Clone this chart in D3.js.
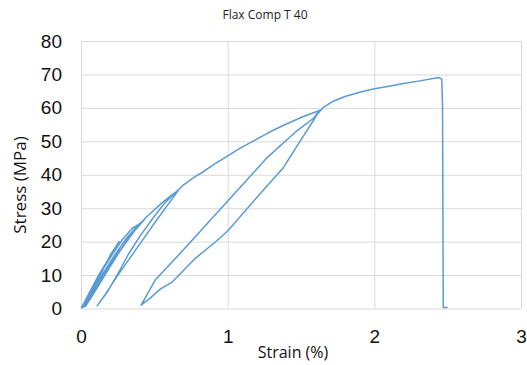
<!DOCTYPE html>
<html>
<head>
<meta charset="utf-8">
<script src="https://cdn.jsdelivr.net/npm/d3@7"></script>
<style>
  body { margin: 0; background: #fff; }
  svg { display: block; font-family: "Open Sans", sans-serif; }
  .grid line { stroke: #d9d9d9; stroke-width: 1; }
  .grid path { display: none; }
  .tick-labels path, .tick-labels line { display: none; }
  .tick-labels text { font-size: 19px; fill: #111; }
</style>
</head>
<body>
<div id="chart"></div>
<script>
const width = 527;
const height = 365;

const xTicks = [0, 1, 2, 3];
const yTicks = [0, 10, 20, 30, 40, 50, 60, 70, 80];

// strain (%), in drawing order
const strain = [
  0, 0.06, 0.12, 0.19, 0.26,
  0.2, 0.12, 0.05, 0.01,
  0.07, 0.14, 0.21, 0.28, 0.35, 0.41,
  0.36, 0.26, 0.15, 0.06, 0.02,
  0.08, 0.15, 0.23, 0.31, 0.39, 0.43,
  0.37, 0.27, 0.17, 0.08, 0.03,
  0.1, 0.18, 0.27, 0.36, 0.45, 0.55, 0.62, 0.665,
  0.6, 0.5, 0.38, 0.26, 0.17, 0.11,
  0.18, 0.24, 0.32, 0.4, 0.49, 0.57, 0.64, 0.7, 0.77, 0.834, 0.92, 0.998, 1.08, 1.155, 1.27, 1.381, 1.52, 1.613, 1.627,
  1.586, 1.476, 1.271, 1.005, 0.697, 0.506, 0.41,
  0.472, 0.54, 0.622, 0.78, 0.93, 1.005, 1.224, 1.381, 1.497, 1.586, 1.606,
  1.65, 1.72, 1.8, 1.9, 2.0, 2.1, 2.2, 2.3, 2.44, 2.46, 2.465, 2.47, 2.5
];

// stress (MPa) matching the strain list
const stress = [
  0, 5, 10, 15, 20,
  16, 9, 3, 0.3,
  5.5, 11, 16, 20.5, 24, 25.6,
  23, 17, 9.5, 3.5, 0.5,
  5, 10.5, 16, 21, 25, 26.5,
  23.5, 17.5, 10.5, 4, 0.6,
  6, 12, 18.5, 23.5, 27.5, 31.5, 34, 35.4,
  31.5, 25.5, 18, 10.5, 4.5, 0.8,
  5, 9.5, 16, 21.5, 27, 31.5, 34.5, 37, 39.2, 40.9, 43.5, 45.6, 47.8, 49.6, 52.4, 54.8, 57.5, 59.0, 59.3,
  56.9, 53.3, 45.2, 32.4, 17.5, 8.5, 1.0,
  3.1, 5.8, 7.9, 15, 20.4, 23.4, 34.5, 42.2, 50.3, 56.3, 57.8,
  60.1, 62.0, 63.4, 64.7, 65.7, 66.5, 67.3, 68.0, 69.1, 68.5, 60, 0.3, 0.3
];

const data = strain.map((s, i) => ({ x: s, y: stress[i] }));

const svg = d3.select("#chart")
  .append("svg")
  .attr("width", width)
  .attr("height", height);

const x = d3.scaleLinear().domain([0, 3]).range([81, 521]);
const y = d3.scaleLinear().domain([0, 80]).range([308.5, 41]);

// gridlines
svg.append("g")
  .attr("class", "grid")
  .attr("transform", `translate(0,${y(0)})`)
  .call(d3.axisBottom(x).tickValues(xTicks).tickSize(-(y(0) - y(80))).tickFormat(""));

svg.append("g")
  .attr("class", "grid")
  .attr("transform", `translate(${x(0)},0)`)
  .call(d3.axisLeft(y).tickValues(yTicks).tickSize(-(x(3) - x(0))).tickFormat(""));

// tick labels
svg.append("g")
  .attr("class", "tick-labels")
  .attr("transform", `translate(${x(0) - 19},0)`)
  .call(d3.axisLeft(y).tickValues(yTicks).tickSize(0).tickPadding(0));

svg.append("g")
  .attr("class", "tick-labels")
  .attr("transform", `translate(0,${y(0) + 21})`)
  .call(d3.axisBottom(x).tickValues(xTicks).tickSize(0).tickPadding(0).tickFormat(d3.format("d")));

// the curve
svg.append("path")
  .datum(data)
  .attr("fill", "none")
  .attr("stroke", "#5B9BD5")
  .attr("stroke-width", 1.5)
  .attr("stroke-linejoin", "round")
  .attr("d", d3.line().x(d => x(d.x)).y(d => y(d.y)));

// titles
svg.append("text")
  .attr("x", 265)
  .attr("y", 19)
  .attr("text-anchor", "middle")
  .style("font-size", "12px")
  .style("fill", "#222")
  .text("Flax Comp T 40");

svg.append("text")
  .attr("x", 293)
  .attr("y", 358)
  .attr("text-anchor", "middle")
  .style("font-size", "16px")
  .style("fill", "#111")
  .text("Strain (%)");

svg.append("text")
  .attr("transform", "translate(26,185) rotate(-90)")
  .attr("text-anchor", "middle")
  .style("font-size", "17px")
  .style("fill", "#111")
  .text("Stress (MPa)");
</script>
</body>
</html>
